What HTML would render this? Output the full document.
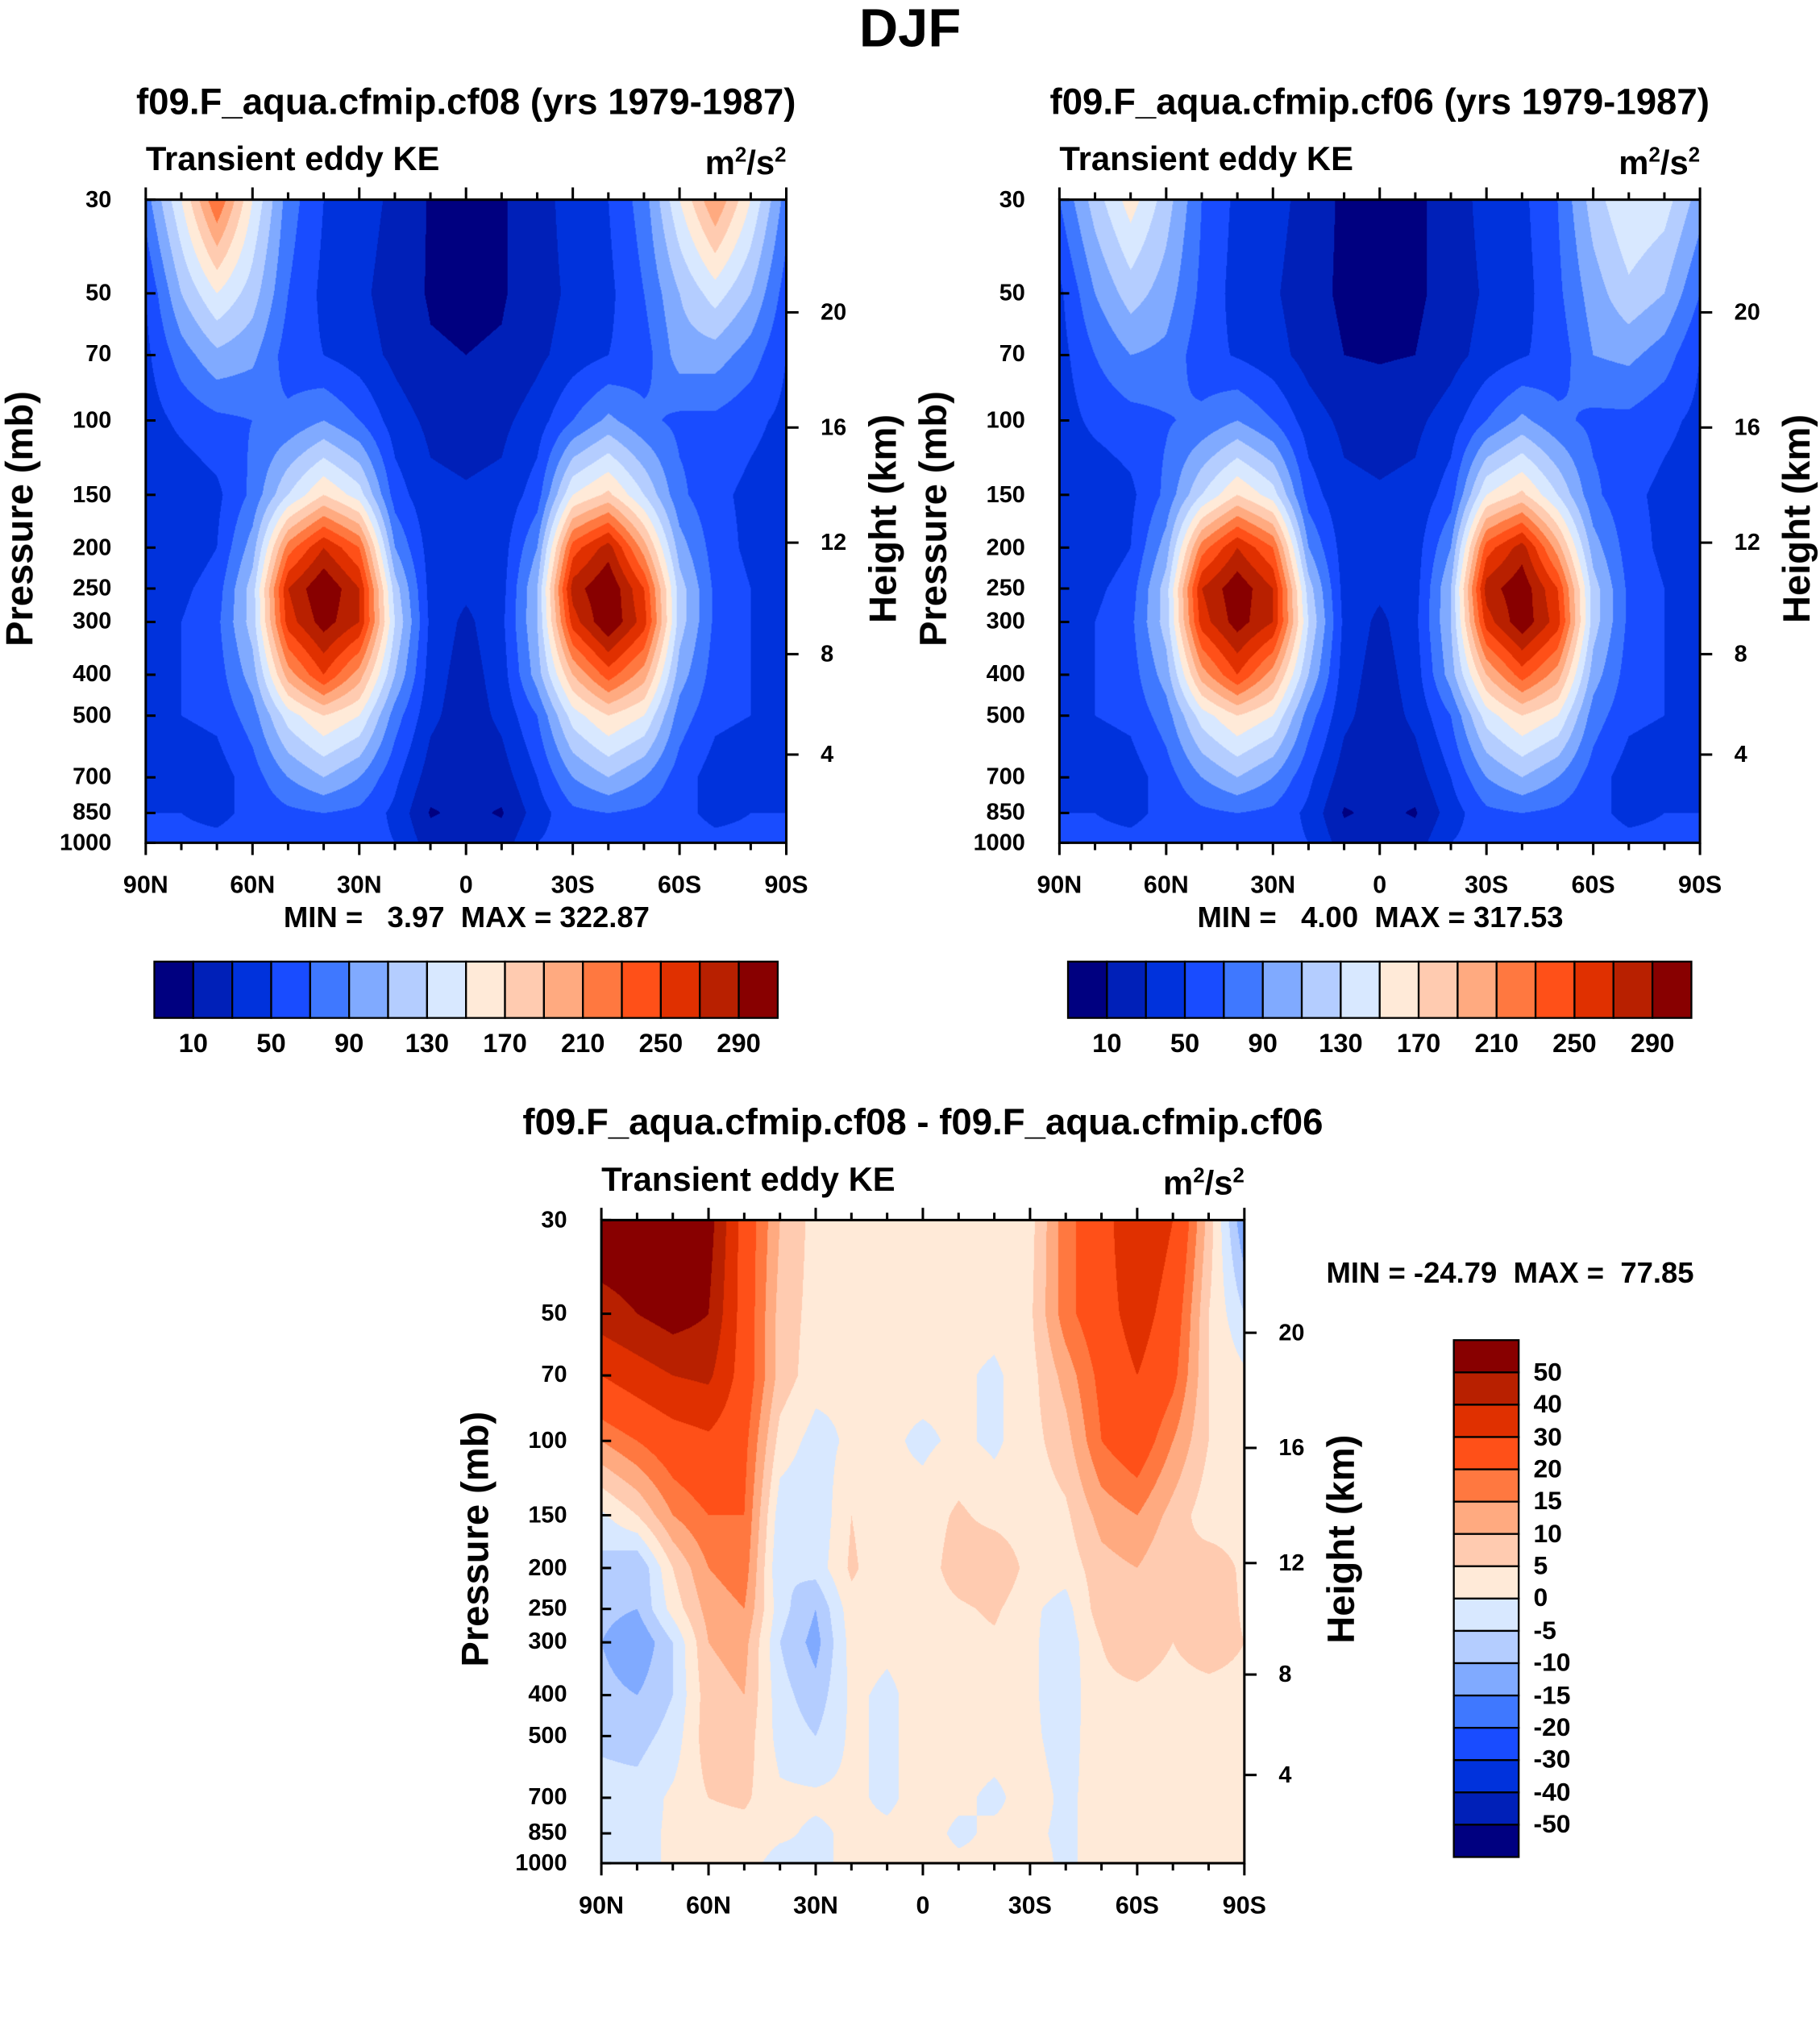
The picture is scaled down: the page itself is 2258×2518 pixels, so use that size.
<!DOCTYPE html>
<html><head><meta charset="utf-8">
<style>
html,body{margin:0;padding:0;background:#fff;}
#wrap{position:absolute;left:0;top:0;width:1486px;height:1569px;transform:scale(1.51952,1.51944);transform-origin:0 0;font-family:"Liberation Sans",Arial,sans-serif;font-weight:bold;color:#000;}
.t{position:absolute;white-space:nowrap;line-height:1;}
canvas{position:absolute;}
svg{position:absolute;left:0;top:0;overflow:visible;}
</style></head><body>
<div id="wrap">
<div class="t" style="left:0;width:1486px;text-align:center;top:2px;font-size:44px;">DJF</div>
</div>
<script>
const S=1.5195;
const pLevels=[30,50,70,100,150,200,250,300,400,500,700,850,1000];
const lats=[90,80,70,60,50,40,30,20,10,0,-10,-20,-30,-40,-50,-60,-70,-80,-90];
const colors=["#000080","#0020b8","#0032dc","#194cff","#3f78ff","#80aaff","#b4cdff","#d8e8ff","#ffead8","#ffcbb0","#ffaa80","#ff7840","#ff5018","#e03000","#b82000","#880000"];
const levelsKE=[10,30,50,70,90,110,130,150,170,190,210,230,250,270,290];
const levelsKELabels=["10","50","90","130","170","210","250","290"];
const levelsDiff=[-50,-40,-30,-20,-15,-10,-5,0,5,10,15,20,30,40,50];
const heightTicks=[20,16,12,8,4];
const ke08=[
[80,150,230,150,80,50,40,25,8,5,8,20,40,50,80,150,210,150,80],
[50,110,150,120,70,45,35,20,8,6,8,20,35,45,70,110,140,110,60],
[45,80,105,95,60,50,40,25,12,10,12,25,40,50,60,100,100,80,50],
[40,55,65,70,75,90,70,40,25,22,25,40,70,95,75,65,65,55,45],
[35,35,45,75,130,170,140,60,35,32,35,60,150,175,130,75,55,45,40],
[30,35,50,100,220,270,230,90,40,35,40,90,240,280,200,100,60,45,40],
[35,45,60,120,270,310,270,120,42,35,42,110,280,310,250,120,65,50,45],
[40,50,65,120,260,300,270,130,45,25,45,110,260,310,260,120,65,50,45],
[45,50,60,100,200,250,200,110,40,20,40,100,190,240,200,100,60,50,45],
[45,50,55,80,140,170,150,80,35,18,35,70,140,170,150,80,55,50,45],
[40,35,40,60,90,110,90,55,20,15,20,50,90,110,90,60,40,35,40],
[50,50,45,55,65,70,65,45,8,15,8,40,65,70,65,55,45,50,50],
[55,55,55,60,65,65,60,50,20,25,20,50,60,65,60,60,55,55,55]];
const ke06=[
[70,120,160,120,70,45,38,22,6,4,6,18,38,45,70,120,150,140,100],
[45,90,120,100,65,42,33,18,6,5,6,18,33,42,65,100,125,110,70],
[42,70,90,85,58,48,38,22,10,8,10,22,38,48,58,90,95,80,50],
[40,55,62,68,75,90,70,40,25,22,25,40,70,95,75,65,65,55,45],
[35,35,45,75,130,170,140,60,35,32,35,60,150,175,130,75,55,45,40],
[30,35,50,100,220,270,230,90,40,35,40,90,240,280,200,100,60,45,40],
[35,45,60,120,270,305,270,120,42,35,42,110,280,305,250,120,65,50,45],
[40,50,65,120,260,300,270,130,45,25,45,110,260,305,260,120,65,50,45],
[45,50,60,100,200,250,200,110,40,20,40,100,190,240,200,100,60,50,45],
[45,50,55,80,140,170,150,80,35,18,35,70,140,170,150,80,55,50,45],
[40,35,40,60,90,110,90,55,20,15,20,50,90,110,90,60,40,35,40],
[50,50,45,55,65,70,65,45,8,15,8,40,65,70,65,55,45,50,50],
[55,55,55,60,65,65,60,50,20,25,20,50,60,65,60,60,55,55,55]];
const keDiff=[
[60,60,60,55,25,10,3,2,2,2,2,2,3,18,25,40,30,8,-15],
[45,50,55,50,25,8,3,2,2,2,2,2,4,18,25,35,25,5,-5],
[30,35,40,42,25,8,2,1,1,2,1,-1,3,12,22,30,22,5,1],
[15,20,25,28,22,3,-2,1,1,-1,1,-1,3,8,20,25,15,5,2],
[-1,5,15,20,20,-3,-4,5,1,2,6,3,2,4,12,15,8,2,3],
[-7,-10,5,15,18,-5,-3,6,1,2,8,10,3,2,8,10,5,8,4],
[-8,-10,2,12,15,-3,-10,3,2,2,4,6,1,-2,8,10,5,10,4],
[-10,-15,-5,10,12,-5,-12,2,1,2,3,4,1,-3,5,8,5,8,5],
[-8,-10,-5,8,10,-3,-8,1,-1,2,2,2,1,-3,4,4,3,3,3],
[-6,-7,-3,8,8,-2,-5,1,-1,2,2,2,1,-2,3,3,3,3,3],
[-3,-3,1,5,6,1,1,1,-1,2,1,-1,2,-1,2,3,2,2,2],
[-3,-2,1,3,3,1,-1,1,1,2,-1,1,1,-1,2,2,2,2,2],
[-3,-2,1,3,2,-2,-1,1,1,2,1,1,2,-1,2,2,2,2,2]];
// fractional position (from bottom) of height ticks on the log-pressure axis (layout, not data)
const heightFrac=[433/525,339/525,245/525,154/525,72/525];

const wrap=document.getElementById('wrap');
function txt(x,yc,s,size,name,align){
 const d=document.createElement('div');d.className='t';
 
 
 d.innerHTML=s;d.style.fontSize=size+'px';d.style.top=(yc-size*0.55)+'px';
 if(align==='c'){d.style.left=(x-400)+'px';d.style.width='800px';d.style.textAlign='center';}
 else if(align==='r'){d.style.left=(x-600)+'px';d.style.width='600px';d.style.textAlign='right';}
 else d.style.left=x+'px';
 wrap.appendChild(d);return d;}
function hex(c){return [parseInt(c.slice(1,3),16),parseInt(c.slice(3,5),16),parseInt(c.slice(5,7),16)];}
const rgb=colors.map(hex);
const yOfP=(p,y0,h)=>y0+Math.log(p/30)/Math.log(1000/30)*h;
const xOfLat=(lat,x0,w)=>x0+(90-lat)/180*w;
function drawField(x0,y0,w,h,grid,levels,name){
 const cv=document.createElement('canvas');
 
 
 const W=Math.round(w*S),H=Math.round(h*S);cv.width=W;cv.height=H;
 cv.style.left=x0+'px';cv.style.top=y0+'px';cv.style.width=w+'px';cv.style.height=h+'px';
 wrap.appendChild(cv);
 const ctx=cv.getContext('2d');const img=ctx.createImageData(W,H);
 const ly=pLevels.map(p=>yOfP(p,0,H));
 const lx=lats.map(l=>xOfLat(l,0,W));
 for(let j=0;j<H;j++){
  let k=0;while(k<ly.length-2&&j+0.5>ly[k+1])k++;
  const fy=Math.min(1,Math.max(0,(j+0.5-ly[k])/(ly[k+1]-ly[k])));
  for(let i=0;i<W;i++){
   let m=0;while(m<lx.length-2&&i+0.5>lx[m+1])m++;
   const fx=Math.min(1,Math.max(0,(i+0.5-lx[m])/(lx[m+1]-lx[m])));
   const v=(grid[k][m]*(1-fx)+grid[k][m+1]*fx)*(1-fy)+(grid[k+1][m]*(1-fx)+grid[k+1][m+1]*fx)*fy;
   let c=0;while(c<levels.length&&v>=levels[c])c++;
   const o=(j*W+i)*4;img.data[o]=rgb[c][0];img.data[o+1]=rgb[c][1];img.data[o+2]=rgb[c][2];img.data[o+3]=255;
  }}
 ctx.putImageData(img,0,0);
}
const NS='http://www.w3.org/2000/svg';
const svg=document.createElementNS(NS,'svg');svg.setAttribute('width','1486');svg.setAttribute('height','1569');

function ln(x1,y1,x2,y2,sw,name){const l=document.createElementNS(NS,'line');l.setAttribute('x1',x1);l.setAttribute('y1',y1);l.setAttribute('x2',x2);l.setAttribute('y2',y2);l.setAttribute('stroke','#000');l.setAttribute('stroke-width',sw);
 
 
 svg.appendChild(l);}
const latLabels=["90N","60N","30N","0","30S","60S","90S"];
function panel(x0,y0,w,h,grid,levels,title,id,minmax,mmx,mmy){
 drawField(x0,y0,w,h,grid,levels,id+'-contour-field');
 const r=document.createElementNS(NS,'rect');r.setAttribute('x',x0);r.setAttribute('y',y0);r.setAttribute('width',w);r.setAttribute('height',h);r.setAttribute('fill','none');r.setAttribute('stroke','#000');r.setAttribute('stroke-width',2);
 
 
 svg.appendChild(r);
 txt(x0+w/2,y0-78,title,30,id+'-title','c');
 txt(x0,y0-32,'Transient eddy KE',27.5,id+'-subtitle');
 txt(x0+w,y0-30,'m<sup style="font-size:17px">2</sup>/s<sup style="font-size:17px">2</sup>',27.5,id+'-units','r');
 pLevels.forEach(p=>{const y=yOfP(p,y0,h);ln(x0,y,x0+8,y,2,id+'-pressure-tick');txt(x0-28,y+1,String(p),19,id+'-pressure-label','r');});
 heightTicks.forEach((z,i)=>{const y=y0+h-heightFrac[i]*h;ln(x0+w,y,x0+w+10,y,2,id+'-height-tick');txt(x0+w+28,y+1,String(z),19,id+'-height-label');});
 for(let l=90;l>=-90;l-=10){const x=xOfLat(l,x0,w);const L=(l%30===0)?10:6;ln(x,y0+h,x,y0+h+L,2,id+'-lat-tick');ln(x,y0,x,y0-L,2,id+'-lat-tick-top');}
 latLabels.forEach((s,i)=>{txt(x0+i*w/6,y0+h+36,s,20,id+'-lat-label','c');});
 const pl=txt(0,y0+h/2,'Pressure (mb)',31,id+'-y-axis-title','c');pl.style.transform='rotate(-90deg)';pl.style.transformOrigin='400px 50%';pl.style.left=(x0-103-400)+'px';
 const hl=txt(0,y0+h/2,'Height (km)',31,id+'-y2-axis-title','c');hl.style.transform='rotate(-90deg)';hl.style.transformOrigin='400px 50%';hl.style.left=(x0+w+79-400)+'px';
 txt(mmx,mmy,minmax,24,id+'-min-max','c');
}
function hbar(x0,y0,w,h,id){
 const bw=w/16;
 colors.forEach((c,i)=>{const r=document.createElementNS(NS,'rect');r.setAttribute('x',x0+i*bw);r.setAttribute('y',y0);r.setAttribute('width',bw);r.setAttribute('height',h);r.setAttribute('fill',c);r.setAttribute('stroke','#000');r.setAttribute('stroke-width',1.5);
 
 
 svg.appendChild(r);});
 levelsKELabels.forEach((s,i)=>txt(x0+(1+2*i)*bw,y0+h+23,s,21.5,id+'-colorbar-label','c'));
}
panel(119,163,523,525,ke08,levelsKE,'f09.F_aqua.cfmip.cf08 (yrs 1979-1987)','panel-cf08','MIN =&nbsp;&nbsp;&nbsp;3.97&nbsp;&nbsp;MAX = 322.87',381,751);
hbar(126,785,509,46,'panel-cf08');
panel(865,163,523,525,ke06,levelsKE,'f09.F_aqua.cfmip.cf06 (yrs 1979-1987)','panel-cf06','MIN =&nbsp;&nbsp;&nbsp;4.00&nbsp;&nbsp;MAX = 317.53',1127,751);
hbar(872,785,509,46,'panel-cf06');
panel(491,996,525,525,keDiff,levelsDiff,'f09.F_aqua.cfmip.cf08 - f09.F_aqua.cfmip.cf06','panel-diff','MIN = -24.79&nbsp;&nbsp;MAX =&nbsp;&nbsp;77.85',1233,1041);
(function(){const x0=1187,y0=1094,w=53,h=422,bh=h/16;
 colors.slice().reverse().forEach((c,i)=>{const r=document.createElementNS(NS,'rect');r.setAttribute('x',x0);r.setAttribute('y',y0+i*bh);r.setAttribute('width',w);r.setAttribute('height',bh);r.setAttribute('fill',c);r.setAttribute('stroke','#000');r.setAttribute('stroke-width',1.5);
 
 
 svg.appendChild(r);});
 levelsDiff.slice().reverse().forEach((v,i)=>txt(x0+w+12,y0+(i+1)*bh+1,String(v),21,'diff-colorbar-label'));
})();
wrap.appendChild(svg);
</script>
</body></html>
